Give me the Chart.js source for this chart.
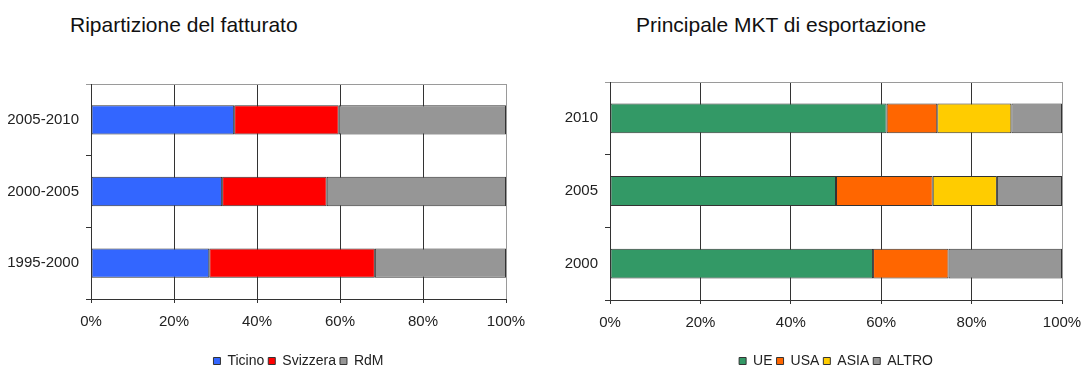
<!DOCTYPE html>
<html>
<head>
<meta charset="utf-8">
<script src="https://cdn.jsdelivr.net/npm/chart.js@4/dist/chart.umd.min.js"></script>
<style>
  html, body { margin: 0; padding: 0; background: #fff; }
  body { width: 1082px; height: 369px; position: relative; overflow: hidden; font-family: "Liberation Sans", Arial, sans-serif; }
  .box { position: absolute; top: 0; width: 541px; height: 369px; }
  .title { position: absolute; top: 14px; font-size: 21px; line-height: 21px; color: #111; white-space: nowrap; }
</style>
</head>
<body>
<div class="title" style="left:70px">Ripartizione del fatturato</div>
<div class="title" style="left:636px">Principale MKT di esportazione</div>
<div class="box" style="left:0"><canvas id="c1" width="541" height="369"></canvas></div>
<div class="box" style="left:541px"><canvas id="c2" width="541" height="369"></canvas></div>
<script>
// ---- Data ----
const periods = ['2005-2010', '2000-2005', '1995-2000'];
const ticino   = [34.5, 31.6, 28.5];
const svizzera = [25.2, 25.2, 39.9];
const rdm      = [40.3, 43.2, 31.6];

const years = ['2010', '2005', '2000'];
const ue    = [61.2, 50.0, 58.2];
const usa   = [11.2, 21.4, 16.7];
const asia  = [16.4, 14.2, null];
const altro = [11.2, 14.4, 25.1];

const xTicks = [0, 20, 40, 60, 80, 100];

// ---- Chart builder ----
const TEXT = '#222';
function makeChart(id, labels, datasets, geom) {
  return new Chart(document.getElementById(id), {
    type: 'bar',
    data: { labels: labels, datasets: datasets },
    options: {
      responsive: false,
      animation: false,
      indexAxis: 'y',
      layout: { padding: { left: 0, right: geom.padRight, top: geom.padTop, bottom: 4 } },
      datasets: { bar: { barPercentage: 0.41, categoryPercentage: 1, borderWidth: 1, borderColor: '#333', borderSkipped: false } },
      plugins: {
        title: { display: false },
        tooltip: { enabled: false },
        legend: {
          position: 'bottom',
          fullSize: false,
          maxHeight: 15,
          labels: {
            boxWidth: 7, boxHeight: 7, padding: 4,
            color: TEXT,
            font: { family: '"Liberation Sans", Arial, sans-serif', size: 14 }
          }
        }
      },
      scales: {
        x: {
          stacked: true,
          min: 0, max: 100,
          afterBuildTicks: (s) => { s.ticks = xTicks.map(v => ({ value: v })); },
          afterFit: (s) => { s.height = geom.xHeight; s.paddingRight = 0; s.paddingLeft = 0; },
          grid: {
            color: (c) => (c.tick && c.tick.value === 100) ? '#9a9a9a' : '#333',
            tickColor: '#333',
            tickLength: 4,
            lineWidth: 1
          },
          border: { display: true, color: '#333', width: 1 },
          ticks: {
            padding: 10,
            color: TEXT,
            font: { family: '"Liberation Sans", Arial, sans-serif', size: 15 },
            callback: (v) => v + '%'
          }
        },
        y: {
          stacked: true,
          afterFit: (s) => { s.width = geom.yWidth; },
          grid: {
            offset: true,
            drawOnChartArea: true,
            color: (c) => c.index === 0 ? '#9a9a9a' : 'rgba(0,0,0,0)',
            tickColor: (c) => c.index === 0 ? '#9a9a9a' : '#333',
            tickLength: 5,
            lineWidth: 1
          },
          border: { display: true, color: '#333', width: 1 },
          ticks: {
            padding: 7,
            color: TEXT,
            font: { family: '"Liberation Sans", Arial, sans-serif', size: 15 }
          }
        }
      }
    }
  });
}

makeChart('c1', periods, [
  { label: 'Ticino',   data: ticino,   backgroundColor: '#3366FF' },
  { label: 'Svizzera', data: svizzera, backgroundColor: '#FF0000' },
  { label: 'RdM',      data: rdm,      backgroundColor: '#969696' }
], { yWidth: 91, padRight: 35, padTop: 84, xHeight: 51 });

makeChart('c2', years, [
  { label: 'UE',    data: ue,    backgroundColor: '#339966' },
  { label: 'USA',   data: usa,   backgroundColor: '#FF6600' },
  { label: 'ASIA',  data: asia,  backgroundColor: '#FFCC00' },
  { label: 'ALTRO', data: altro, backgroundColor: '#969696' }
], { yWidth: 69, padRight: 20, padTop: 82, xHeight: 50 });
</script>
</body>
</html>
